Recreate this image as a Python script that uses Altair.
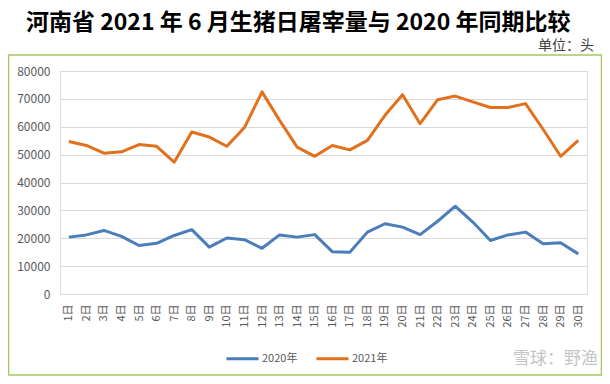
import altair as alt
import pandas as pd

days = ["1日", "2日", "3日", "4日", "5日", "6日", "7日", "8日", "9日", "10日",
        "11日", "12日", "13日", "14日", "15日", "16日", "17日", "18日", "19日", "20日",
        "21日", "22日", "23日", "24日", "25日", "26日", "27日", "28日", "29日", "30日"]
v2020 = [20400, 21200, 22800, 20700, 17400, 18200, 21000, 23100, 16800, 20100,
         19500, 16400, 21200, 20400, 21300, 15200, 15000, 22200, 25200, 24000,
         21300, 26100, 31500, 25800, 19200, 21200, 22200, 18000, 18400, 14400]
v2021 = [54700, 53300, 50500, 51000, 53600, 53000, 47300, 58100, 56300, 53000,
         59700, 72500, 62300, 52700, 49400, 53300, 51700, 55100, 64100, 71500,
         61100, 69700, 71000, 68900, 66900, 66900, 68300, 59100, 49400, 55100]
series = ["2020年", "2021年"]
colors = ["#4A7EBB", "#E2711D"]
y_ticks = [0, 10000, 20000, 30000, 40000, 50000, 60000, 70000, 80000]

title_text = "河南省 2021 年 6 月生猪日屠宰量与 2020 年同期比较"
unit_text = "单位：头"
mark_text = "雪球：野渔"

rows = []
for d, a, b in zip(days, v2020, v2021):
    rows.append({"day": d, "series": series[0], "value": a})
    rows.append({"day": d, "series": series[1], "value": b})
df = pd.DataFrame(rows)

FONT = "Noto Sans CJK SC"

lines = alt.Chart(df).mark_line(strokeWidth=3, strokeJoin="round").encode(
    x=alt.X("day:O", sort=days,
            axis=alt.Axis(title=None, labelAngle=-90, labelFontSize=11,
                          labelColor="#595959", domain=False, ticks=False,
                          labelPadding=10, labelFont=FONT, grid=False)),
    y=alt.Y("value:Q", scale=alt.Scale(domain=[0, 80000], nice=False),
            axis=alt.Axis(title=None, values=y_ticks, format="d", labelFontSize=12,
                          labelColor="#595959", domain=False, ticks=False,
                          labelPadding=10, gridColor="#D9D9D9", labelFont=FONT)),
    color=alt.Color("series:N",
                    scale=alt.Scale(domain=series, range=colors),
                    legend=alt.Legend(title=None, orient="none", legendX=165, legendY=270,
                                      direction="horizontal", symbolType="stroke",
                                      symbolSize=1024, symbolStrokeWidth=3,
                                      labelFontSize=11, labelColor="#595959",
                                      columnPadding=12, labelOffset=2, labelFont=FONT)),
)

one = pd.DataFrame({"t": [""]})

border = alt.Chart(one).mark_rect(filled=False, stroke="#A4C85F", strokeWidth=1.5).encode(
    x=alt.value(-51.5), x2=alt.value(541.5), y=alt.value(-16), y2=alt.value(304)
)

title = alt.Chart(pd.DataFrame({"t": [title_text]})).mark_text(
    align="left", baseline="middle", fontSize=23, fontWeight="bold", font=FONT, color="#000000"
).encode(x=alt.value(-34), y=alt.value(-48), text="t:N")

unit = alt.Chart(pd.DataFrame({"t": [unit_text]})).mark_text(
    align="right", baseline="middle", fontSize=14, font=FONT, color="#404040"
).encode(x=alt.value(534), y=alt.value(-25), text="t:N")

wm = alt.Chart(pd.DataFrame({"t": [mark_text]})).mark_text(
    align="right", baseline="middle", fontSize=17, font=FONT, color="#C4C4C4"
).encode(x=alt.value(538), y=alt.value(288), text="t:N")

chart = alt.layer(border, lines, title, unit, wm).properties(
    width=527, height=223,
    padding={"left": 52, "top": 63, "right": 15, "bottom": 82},
    autosize=alt.AutoSizeParams(type="none"),
).configure_view(stroke=None).configure(font=FONT)

chart.save("out.html", embed_options={"renderer": "svg", "actions": False})
